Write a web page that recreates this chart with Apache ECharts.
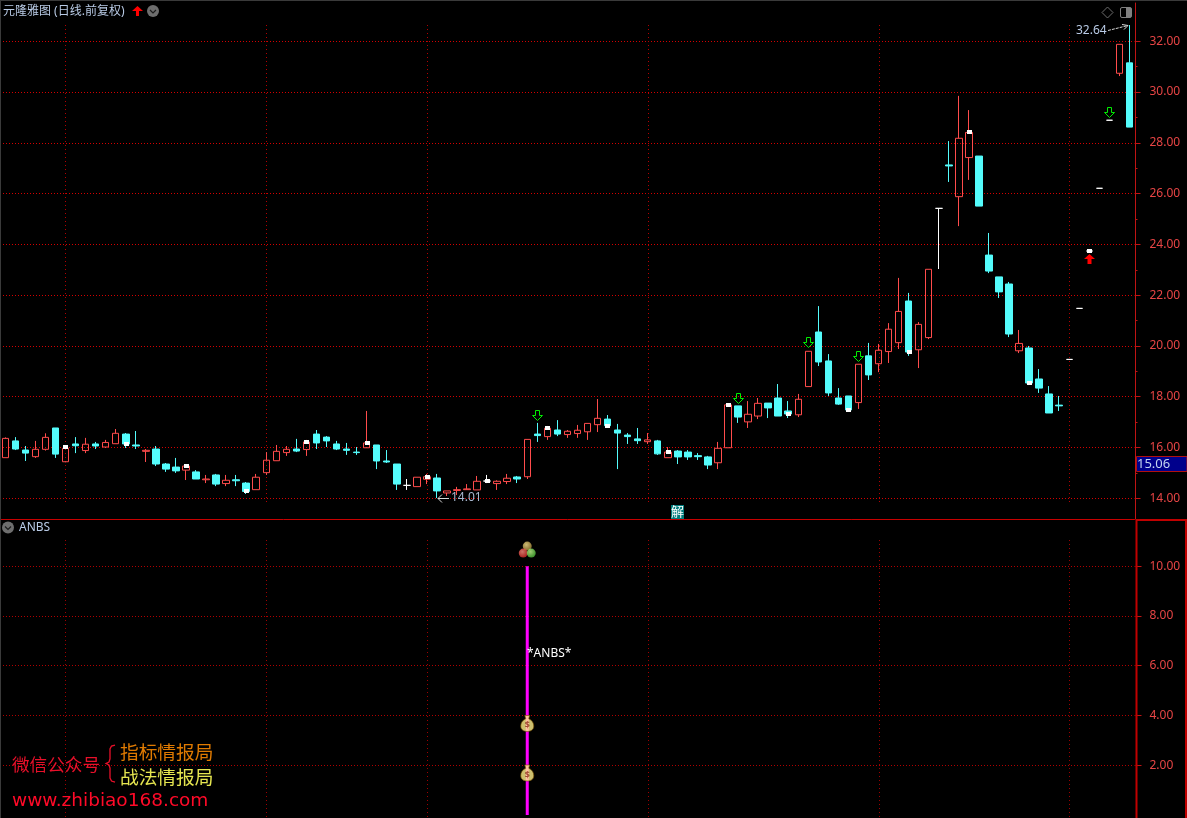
<!DOCTYPE html>
<html><head><meta charset="utf-8">
<style>html,body{margin:0;padding:0;background:#000;overflow:hidden}#c{width:1187px;height:818px}</style>
<script src="https://cdn.jsdelivr.net/npm/echarts@6/dist/echarts.min.js"></script>
</head><body><div id="c"></div>
<script>
// [open, close, low, high]
const candleOHLC = [
[15.60,16.36,15.60,16.40],[16.26,15.94,15.90,16.41],[15.90,15.78,15.47,16.06],[15.64,15.93,15.59,16.26],[15.93,16.40,15.88,16.56],
[16.77,15.74,15.59,16.77],[15.44,15.97,15.42,16.10],[16.14,16.07,15.78,16.41],[15.88,16.13,15.78,16.38],[16.14,16.06,15.94,16.22],
[16.02,16.20,15.98,16.30],[16.15,16.56,16.15,16.73],[16.53,16.14,15.98,16.57],[16.10,16.06,15.94,16.65],[15.85,15.89,15.43,15.94],
[15.94,15.35,15.27,16.06],[15.35,15.15,15.04,15.39],[15.23,15.08,15.00,15.59],[15.11,15.27,14.72,15.35],[15.04,14.76,14.76,15.11],
[14.73,14.76,14.60,14.92],[14.92,14.56,14.48,14.96],[14.58,14.71,14.48,14.92],[14.73,14.69,14.48,14.92],[14.60,14.27,14.17,14.64],
[14.34,14.83,14.34,14.96],[15.01,15.50,14.92,15.82],[15.48,15.85,15.48,16.10],[15.80,15.93,15.67,16.06],[15.94,15.86,15.82,16.34],
[15.92,16.22,15.67,16.30],[16.53,16.18,15.94,16.69],[16.41,16.26,16.02,16.45],[16.14,15.94,15.90,16.26],[15.94,15.89,15.71,16.18],
[15.82,15.80,15.71,16.02],[15.99,16.18,15.99,17.44],[16.10,15.47,15.15,16.10],[15.47,15.43,15.39,15.90],[15.35,14.56,14.33,15.35],
[14.51,14.51,14.33,14.76],[14.46,14.83,14.46,14.83],[14.75,14.85,14.56,14.96],[14.80,14.29,14.01,14.96],[14.21,14.29,14.09,14.29],
[14.31,14.34,14.13,14.45],[14.34,14.37,14.33,14.56],[14.33,14.67,14.33,14.88],[14.68,14.68,14.60,14.92],[14.58,14.67,14.33,14.71],
[14.66,14.79,14.56,14.96],[14.84,14.76,14.60,14.88],[14.85,16.32,14.76,16.32],[16.53,16.47,16.22,16.97],[16.43,16.76,16.30,16.85],
[16.69,16.53,16.45,17.08],[16.51,16.64,16.38,16.69],[16.55,16.68,16.38,16.89],[16.62,16.95,16.30,16.95],[16.90,17.15,16.61,17.91],
[17.12,16.86,16.77,17.28],[16.69,16.57,15.15,16.93],[16.49,16.43,16.14,16.57],[16.34,16.27,16.14,16.77],[16.23,16.30,16.14,16.57],
[16.26,15.75,15.71,16.30],[15.60,15.82,15.60,16.02],[15.86,15.63,15.35,15.90],[15.82,15.63,15.51,15.90],[15.68,15.64,15.51,15.78],
[15.63,15.31,15.15,15.67],[15.40,15.97,15.15,16.22],[15.99,17.68,15.99,17.75],[17.64,17.20,16.97,17.64],[17.01,17.31,16.77,17.83],
[17.24,17.74,17.12,17.95],[17.75,17.56,17.16,17.75],[17.95,17.24,17.24,18.50],[17.44,17.32,17.16,17.83],[17.29,17.90,17.20,18.11],
[18.40,19.79,18.40,19.79],[20.55,19.37,19.21,21.57],[19.41,18.15,18.03,19.68],[17.95,17.71,17.68,18.34],[18.03,17.48,17.40,18.03],
[17.77,19.28,17.52,19.28],[19.61,18.86,18.66,20.12],[19.30,19.83,18.97,20.08],[19.78,20.66,19.33,20.90],[20.13,21.36,19.88,22.68],
[21.77,19.76,19.61,22.09],[19.85,20.85,19.13,20.94],[20.33,23.02,20.27,23.02],[25.42,25.42,23.03,25.42],[27.13,27.09,26.46,28.07],
[25.88,28.18,24.72,29.85],[27.42,28.41,26.54,29.29],[27.48,25.51,25.51,27.48],[23.58,22.95,22.87,24.45],[22.72,22.13,21.89,22.72],
[22.44,20.47,20.35,22.52],[19.81,20.10,19.72,20.63],[19.92,18.54,18.46,20.00],[18.70,18.34,18.15,19.09],[18.11,17.36,17.36,18.42],
[17.67,17.64,17.44,18.03],[19.47,19.47,19.47,19.47],[21.48,21.48,21.48,21.48],[23.74,23.74,23.74,23.74],[26.21,26.21,26.21,26.21],
[28.89,28.89,28.89,28.89],[30.74,31.88,30.63,31.88],[31.15,28.62,28.62,32.64]
];
const categories = candleOHLC.map((_, i) => String(i));
const whiteMarks = [[6,16.02],[12,16.14],[18,15.27],[24,14.27],[30,16.22],[36,16.18],[42,14.85],[48,14.68],[54,16.76],[60,16.86],[66,15.82],[72,17.68],[78,17.32],[84,17.48],[90,19.76],[96,28.41],[102,18.54],[108,23.74]];
const downArrows = [[53,17.26],[73,17.93],[80,20.10],[85,19.58],[110,29.19]];
const upArrows = [[108,23.43]];
const monthStarts = [6,26,42,64,87,106];
const priceLabels = [14,16,18,20,22,24,26,28,30,32];
const priceMinorTicks = [15,17,19,21,23,25,27,29,31];
const anbsLabels = [2,4,6,8,10];
const anbsBarIndex = 52;
const anbsBarValue = 10;
const bagValues = [3.68,1.69];
const ballsValue = 10.65;

const RED='#ff4c4c', CYAN='#54fcfc', AX='#c01414', LBL='#e84545', PALE='#b9cbe6';
const FONT='"Noto Sans","Noto Sans CJK SC",sans-serif';
const barSeries = categories.map(c => +c===anbsBarIndex ? anbsBarValue : null);
const snapX = x => Math.floor(x+0.45);

const vlineSeries=(xi,yi,a,b,color)=>({type:'custom',xAxisIndex:xi,yAxisIndex:yi,z:1,silent:true,clip:false,
  data:monthStarts.map(i=>[String(i),a]),
  renderItem:(p,api)=>{const x=snapX(api.coord([api.value(0),a])[0])+.5;
    return {type:'line',shape:{x1:x,y1:Math.round(api.coord([api.value(0),a])[1]),x2:x,y2:Math.round(api.coord([api.value(0),b])[1])},style:{stroke:color,lineWidth:1,lineDash:[1,3],fill:null}};}});
const pointSeries=(data,z,draw)=>({type:'custom',xAxisIndex:0,yAxisIndex:0,z,silent:true,
  data:data.map(d=>[String(d[0]),d[1]]),
  renderItem:(p,api)=>{const c=api.coord([api.value(0),api.value(1)]);return draw(snapX(c[0]),Math.round(c[1]));}});
const ballGrad=(c1,c2)=>({type:'radial',x:.4,y:.35,r:.7,colorStops:[{offset:0,color:c1},{offset:1,color:c2}]});
const chart = echarts.init(document.getElementById('c'),null,{renderer:'canvas'});
const txt=(x,y,t,fs,fill,font)=>({type:'text',x,y,z:50,silent:true,style:{text:t,font:fs+'px '+(font||FONT),fill,textVerticalAlign:'middle'}});
chart.setOption({
 animation:false, backgroundColor:'#000', tooltip:{show:false},
 grid:[{left:0.3,top:3,width:1134.2,height:516},{left:0.3,top:520,width:1134.2,height:298}],
 xAxis:[
  {type:'category',gridIndex:0,data:categories,axisLabel:{show:false},axisTick:{show:false},splitLine:{show:false},axisLine:{show:true,lineStyle:{color:'#c80000',width:1}}},
  {type:'category',gridIndex:1,data:categories,axisLabel:{show:false},axisTick:{show:false},splitLine:{show:false},axisLine:{show:false}}
 ],
 yAxis:[
  {type:'value',gridIndex:0,position:'right',offset:1,min:13.1847,max:33.508,
   axisLine:{show:true,onZero:false,lineStyle:{color:AX}},
   axisTick:{show:true,length:5,customValues:priceLabels,lineStyle:{color:AX}},
   axisLabel:{show:true,customValues:priceLabels,margin:14,color:LBL,fontFamily:FONT,fontSize:12,formatter:v=>v.toFixed(2)},
   splitLine:{show:true,lineStyle:{color:'#d40000',type:[1,2],dashOffset:.3,width:1}}},
  {type:'value',gridIndex:0,position:'right',offset:1,min:13.1847,max:33.508,
   axisLine:{show:false},axisTick:{show:true,length:2,customValues:priceMinorTicks,lineStyle:{color:AX}},
   axisLabel:{show:false},splitLine:{show:false}},
  {type:'value',gridIndex:1,position:'right',offset:1,min:-0.1206,max:11.859,
   axisLine:{show:false},
   axisTick:{show:true,length:6,customValues:anbsLabels,lineStyle:{color:AX}},
   axisLabel:{show:true,customValues:anbsLabels,margin:14,color:LBL,fontFamily:FONT,fontSize:12,formatter:v=>v.toFixed(2)},
   splitLine:{show:true,lineStyle:{color:'#b00000',type:[1,2],dashOffset:.3,width:1}}}
 ],
 series:[
  vlineSeries(0,0,32.6415,13.74,'#b40000'),
  vlineSeries(1,2,11.0548,-0.12,'#a00000'),
  {type:'candlestick',xAxisIndex:0,yAxisIndex:0,z:3,barWidth:7,data:candleOHLC,silent:true,
   itemStyle:{color:'rgba(0,0,0,0)',color0:CYAN,borderColor:RED,borderColor0:CYAN,borderColorDoji:'#ffffff',borderWidth:1}},
  pointSeries(whiteMarks,4,(x,y)=>({type:'rect',shape:{x:x-2,y:y-2,width:5,height:4},style:{fill:'#fff'}})),
  pointSeries(downArrows,5,(x,y)=>{const c=x+.5,t=y-5.5;return {type:'polygon',
    shape:{points:[[c-2,t],[c+2,t],[c+2,t+5],[c+5,t+5],[c,t+10],[c-5,t+5],[c-2,t+5]]},style:{fill:null,stroke:'#00ee00',lineWidth:1}};}),
  pointSeries(upArrows,5,(x,y)=>{const c=x+.5,t=y-5;return {type:'polygon',
    shape:{points:[[c,t],[c+5.5,t+5],[c+2,t+5],[c+2,t+10],[c-2,t+10],[c-2,t+5],[c-5.5,t+5]]},style:{fill:'#ff0000'}};}),
  {type:'bar',xAxisIndex:1,yAxisIndex:2,z:3,barWidth:3,silent:true,itemStyle:{color:'#ff00ff'},data:barSeries},
  {type:'scatter',xAxisIndex:1,yAxisIndex:2,z:5,silent:true,symbolSize:9,
   data:[
    {value:[String(anbsBarIndex),ballsValue],symbolOffset:[0,-4],itemStyle:{color:ballGrad('#ffe890','#a08030')}},
    {value:[String(anbsBarIndex),ballsValue],symbolOffset:[-4,3],itemStyle:{color:ballGrad('#ff9080','#d02020')}},
    {value:[String(anbsBarIndex),ballsValue],symbolOffset:[4,3],itemStyle:{color:ballGrad('#c8ff90','#40b030')}}
   ]},
  {type:'scatter',xAxisIndex:1,yAxisIndex:2,z:5,silent:true,
   symbol:'path://M4,0H9L8,3C11.5,4.5 13,7 13,10C13,13.5 10,15 6.5,15C3,15 0,13.5 0,10C0,7 1.5,4.5 5,3Z',symbolSize:[13,16],
   itemStyle:{color:'#ffef8a',borderColor:'#7a5200',borderWidth:.8},
   label:{show:true,position:'inside',formatter:'$',offset:[0,2],fontSize:9,fontWeight:'bold',color:'#8a2a18',fontFamily:FONT},
   data:bagValues.map(v=>[String(anbsBarIndex),v])}
 ],
 graphic:[
  {type:'rect',silent:true,z:40,shape:{x:0,y:0,width:1,height:818},style:{fill:'#3a3a3a'}},
  {type:'rect',silent:true,z:40,shape:{x:0,y:0,width:1187,height:1},style:{fill:'#3a3a3a'}},
  // lower pane frame
  {type:'rect',silent:true,z:41,shape:{x:1136.5,y:520,width:49.5,height:300},style:{fill:'none',stroke:'#c00000',lineWidth:2}},
  // latest-price flag
  {type:'rect',silent:true,z:42,shape:{x:1136.5,y:456.5,width:50.5,height:15},style:{fill:'#00008c',stroke:'#b01010',lineWidth:1}},
  txt(1137,464,'15.06',13,'#c4d4f0'),
  // title row
  txt(3,12,'元隆雅图 (日线.前复权)',12,PALE),
  {type:'polygon',silent:true,z:50,shape:{points:[[136,16],[139,16],[139,11],[143,11],[137.5,6],[132,11],[136,11]]},style:{fill:'#ff0000'}},
  {type:'circle',silent:true,z:50,shape:{cx:153,cy:11,r:6},style:{fill:'#6e6e6e'}},
  {type:'polyline',silent:true,z:51,shape:{points:[[150,10],[153,13],[156,10]]},style:{stroke:'#1c1c1c',fill:'none',lineWidth:1.2}},
  {type:'polygon',silent:true,z:50,shape:{points:[[1107.5,7],[1113,12.5],[1107.5,18],[1102,12.5]]},style:{fill:'none',stroke:'#6e6e6e',lineWidth:1}},
  {type:'rect',silent:true,z:50,shape:{x:1120.5,y:7.5,width:11,height:10,r:1.5},style:{fill:'none',stroke:'#808080',lineWidth:1}},
  {type:'rect',silent:true,z:50,shape:{x:1126,y:8,width:5,height:9},style:{fill:'#808080'}},
  // extreme labels
  txt(1076,31,'32.64',12,PALE),
  {type:'polyline',silent:true,z:50,shape:{points:[[1108,30.5],[1118,28],[1128,25.5]]},style:{stroke:'#d8d8d8',fill:'none',lineWidth:1,lineDash:[3,1]}},
  {type:'polyline',silent:true,z:50,shape:{points:[[1122,24.5],[1128,25.5],[1124,29.5]]},style:{stroke:'#d8d8d8',fill:'none',lineWidth:1}},
  txt(451,497.5,'14.01',12,'#a8b8d0'),
  {type:'polyline',silent:true,z:50,shape:{points:[[449,498.5],[438,498.5]]},style:{stroke:'#d8d8d8',fill:'none',lineWidth:1}},
  {type:'polyline',silent:true,z:50,shape:{points:[[442,494.5],[438,498.5],[442,502.5]]},style:{stroke:'#d8d8d8',fill:'none',lineWidth:1}},
  // 解 badge
  {type:'rect',silent:true,z:50,shape:{x:671,y:505,width:13,height:14},style:{fill:'#007c7c'}},
  txt(671,512,'解',13,'#ffffff'),
  // lower pane labels
  {type:'circle',silent:true,z:50,shape:{cx:8,cy:527.5,r:6},style:{fill:'#6e6e6e'}},
  {type:'polyline',silent:true,z:51,shape:{points:[[5,526.5],[8,529.5],[11,526.5]]},style:{stroke:'#1c1c1c',fill:'none',lineWidth:1.2}},
  txt(19,528,'ANBS',12,PALE),
  txt(527,653.5,'*ANBS*',12,'#ffffff'),
  // watermark
  txt(12,766,'微信公众号',17.6,'#e8102a'),
  txt(120,754,'指标情报局',18.7,'#e07a00'),
  txt(120,779,'战法情报局',18.7,'#e6e650'),
  {type:'polyline',silent:true,z:50,shape:{points:[[115,745],[111.5,746],[110,749],[110,759],[109,762],[106,763.5],[109,765],[110,768],[110,778],[111.5,781],[115,782]]},style:{fill:'none',stroke:'#e8102a',lineWidth:1.3}},
  txt(12,801.5,'www.zhibiao168.com',18.5,'#ff0a28','"DejaVu Sans",sans-serif')
 ]
});
</script></body></html>
